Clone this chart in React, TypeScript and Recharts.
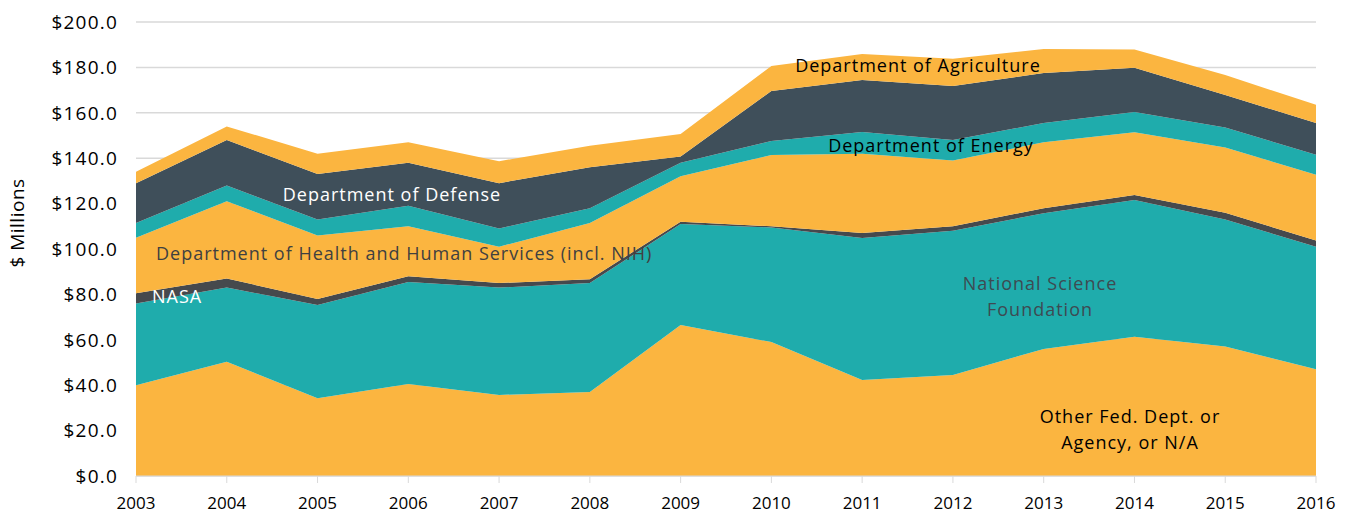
import React from "react";
import { AreaChart, Area, XAxis, YAxis, CartesianGrid } from "recharts";

// $ millions by year, bottom layer first
const years = ["2003", "2004", "2005", "2006", "2007", "2008", "2009", "2010", "2011", "2012", "2013", "2014", "2015", "2016"];
const otherFed = [40, 50.3, 34.3, 40.5, 35.7, 37, 66.5, 59, 42.3, 44.5, 56, 61.3, 57, 47];
const nsf = [36, 32.7, 41, 45, 47.3, 48, 44.5, 50.5, 62.5, 63.5, 59.8, 60.3, 56, 54];
const nasa = [4.5, 4, 2.7, 2.5, 2, 1.7, 1, 0.5, 2.2, 2, 2.2, 2.2, 3, 2.7];
const hhs = [24.5, 34, 28, 22, 16, 24.8, 20, 31.4, 35, 29, 29, 27.6, 28.7, 29];
const energy = [6.5, 7, 7, 9, 8, 6.5, 6, 6.2, 9.5, 9, 8.5, 9, 8.8, 8.8];
const defense = [17.5, 20, 20, 19, 20, 18, 2.7, 22, 23, 23.8, 22, 19.5, 14.3, 14];
const agriculture = [5, 6, 9, 9, 9.7, 9.5, 10, 11, 11.4, 12, 10.6, 8, 8.8, 8];
const yTicks = [0, 20, 40, 60, 80, 100, 120, 140, 160, 180, 200];

const data = years.map((year, i) => ({
  year,
  otherFed: otherFed[i],
  nsf: nsf[i],
  nasa: nasa[i],
  hhs: hhs[i],
  energy: energy[i],
  defense: defense[i],
  agriculture: agriculture[i],
}));

const ORANGE = "#FBB540";
const TEAL = "#1FACAC";
const SLATE = "#3F4F5A";
const NASA_GRAY = "#46494D";

const FONT = "'Open Sans', sans-serif";

const series = [
  { key: "otherFed", color: ORANGE },
  { key: "nsf", color: TEAL },
  { key: "nasa", color: NASA_GRAY },
  { key: "hhs", color: ORANGE },
  { key: "energy", color: TEAL },
  { key: "defense", color: SLATE },
  { key: "agriculture", color: ORANGE },
];

// in-plot labels (wide geometric look in the original, so a bit of letter spacing)
const labelStyle: React.CSSProperties = { fontFamily: FONT, fontSize: 18, letterSpacing: 1 };

export default function App() {
  return (
    <div style={{ position: "relative", width: 1338, height: 510 }}>
      <AreaChart width={1338} height={510} data={data} margin={{ top: 14, right: 30, left: 0, bottom: 12 }}>
        <CartesianGrid vertical={false} stroke="#D9D9D9" strokeWidth={1.5} />
        <XAxis
          dataKey="year"
          stroke="#D9D9D9"
          tickLine={{ stroke: "#D9D9D9" }}
          tickSize={7}
          tickMargin={14}
          height={30}
          tick={{ fill: "#000", fontSize: 17, fontFamily: FONT }}
          interval={0}
        />
        <YAxis
          width={128}
          domain={[0, 200]}
          ticks={yTicks}
          axisLine={false}
          tickLine={false}
          tickMargin={12}
          tickFormatter={(v: number) => `$${v.toFixed(1)}`}
          tick={{ fill: "#000", fontSize: 19, fontFamily: FONT, letterSpacing: 1.2 }}
        />
        {series.map((s) => (
          <Area
            key={s.key}
            type="linear"
            dataKey={s.key}
            stackId="1"
            stroke="none"
            fill={s.color}
            fillOpacity={1}
            isAnimationActive={false}
          />
        ))}
      </AreaChart>

      <svg width={1338} height={510} style={{ position: "absolute", left: 0, top: 0, pointerEvents: "none" }}>
        <text
          x={16}
          y={215}
          textAnchor="middle"
          transform="rotate(-90 16 215)"
          style={{ fontFamily: FONT, fontSize: 19, letterSpacing: 0.5 }}
          fill="#000"
        >
          $ Millions
        </text>
        <text x={910} y={64} textAnchor="middle" style={labelStyle} fill="#000">Department of Agriculture</text>
        <text x={923} y={144} textAnchor="middle" style={labelStyle} fill="#000">Department of Energy</text>
        <text x={384} y={193} textAnchor="middle" style={labelStyle} fill="#fff">Department of Defense</text>
        <text x={148} y={252} style={labelStyle} fill="#404040">Department of Health and Human Services (incl. NIH)</text>
        <text x={144} y={295} style={labelStyle} fill="#fff">NASA</text>
        <text x={1032} y={282} textAnchor="middle" style={labelStyle} fill="#3E4A52">National Science</text>
        <text x={1032} y={308} textAnchor="middle" style={labelStyle} fill="#3E4A52">Foundation</text>
        <text x={1122} y={415} textAnchor="middle" style={labelStyle} fill="#000">Other Fed. Dept. or</text>
        <text x={1122} y={441} textAnchor="middle" style={labelStyle} fill="#000">Agency, or N/A</text>
      </svg>
    </div>
  );
}
